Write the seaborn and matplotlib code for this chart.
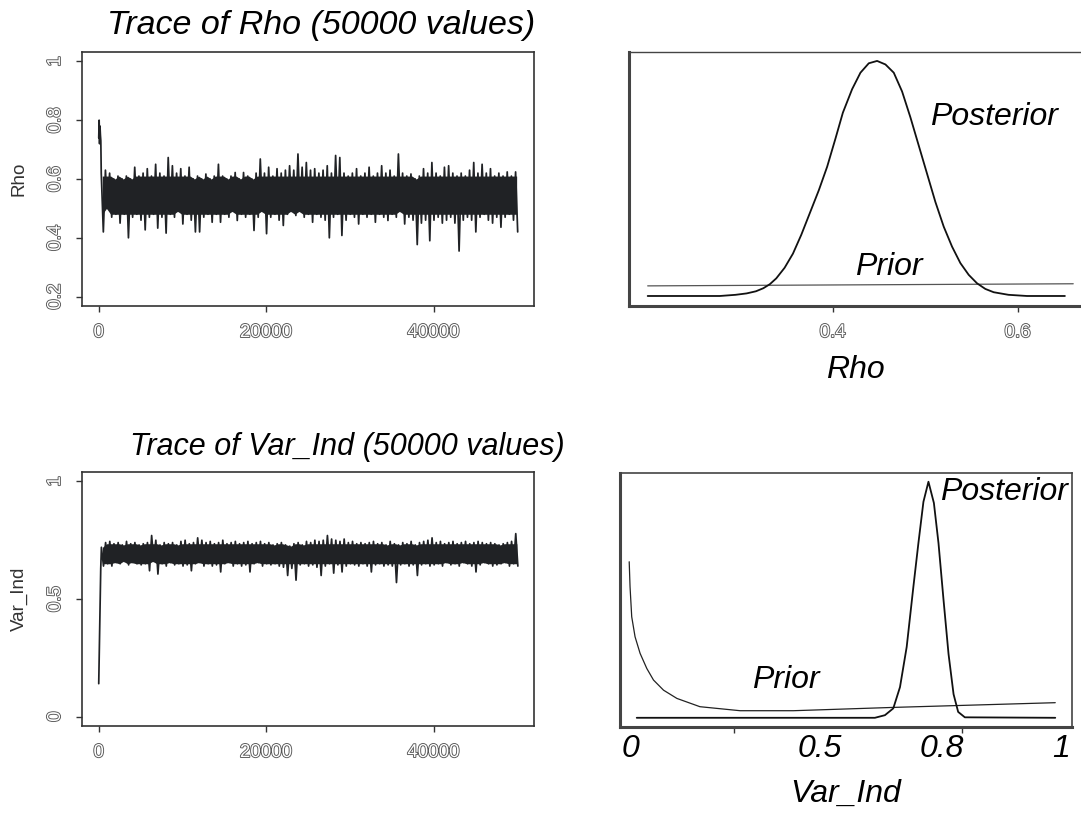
import numpy as np
import matplotlib
matplotlib.use("Agg")
import matplotlib.pyplot as plt
import matplotlib.patheffects as pe
import seaborn as sns

# ---- trace of Rho: burn-in values, then upper / lower swings per 500 iterations
rho_burn = [0.74, 0.80, 0.72, 0.78, 0.75, 0.73]
rho_hi = [0.62, 0.63, 0.62, 0.60, 0.61, 0.60, 0.61, 0.60, 0.64, 0.61,
          0.62, 0.635, 0.61, 0.65, 0.62, 0.61, 0.673, 0.645, 0.62, 0.635,
          0.61, 0.64, 0.60, 0.61, 0.60, 0.617, 0.60, 0.61, 0.65, 0.61,
          0.60, 0.61, 0.622, 0.60, 0.622, 0.61, 0.60, 0.62, 0.668, 0.62,
          0.64, 0.61, 0.635, 0.62, 0.63, 0.645, 0.63, 0.685, 0.64, 0.656,
          0.63, 0.635, 0.62, 0.63, 0.645, 0.62, 0.68, 0.673, 0.62, 0.61,
          0.62, 0.635, 0.61, 0.62, 0.64, 0.61, 0.62, 0.645, 0.62, 0.63,
          0.61, 0.685, 0.62, 0.61, 0.617, 0.60, 0.61, 0.635, 0.62, 0.656,
          0.62, 0.61, 0.64, 0.645, 0.62, 0.61, 0.62, 0.61, 0.63, 0.656,
          0.62, 0.65, 0.62, 0.635, 0.61, 0.62, 0.61, 0.624, 0.61, 0.624]
rho_lo = [0.42, 0.50, 0.47, 0.48, 0.45, 0.48, 0.40, 0.47, 0.48, 0.46,
          0.427, 0.47, 0.48, 0.433, 0.47, 0.416, 0.48, 0.47, 0.49, 0.447,
          0.48, 0.46, 0.42, 0.42, 0.47, 0.48, 0.453, 0.48, 0.453, 0.48,
          0.47, 0.49, 0.459, 0.48, 0.47, 0.48, 0.425, 0.47, 0.49, 0.414,
          0.47, 0.48, 0.46, 0.442, 0.48, 0.49, 0.476, 0.49, 0.47, 0.48,
          0.453, 0.48, 0.47, 0.46, 0.40, 0.47, 0.48, 0.408, 0.46, 0.48,
          0.47, 0.447, 0.48, 0.47, 0.48, 0.453, 0.48, 0.47, 0.459, 0.48,
          0.47, 0.49, 0.447, 0.47, 0.46, 0.377, 0.45, 0.46, 0.39, 0.46,
          0.47, 0.45, 0.46, 0.47, 0.45, 0.355, 0.46, 0.47, 0.46, 0.42,
          0.47, 0.48, 0.46, 0.45, 0.47, 0.436, 0.47, 0.48, 0.46, 0.42]

# ---- trace of Var_Ind
var_burn = [0.14, 0.30, 0.46, 0.63]
var_hi = [0.72, 0.74, 0.745, 0.735, 0.74, 0.73, 0.745, 0.735, 0.74, 0.73,
          0.735, 0.74, 0.77, 0.75, 0.73, 0.74, 0.735, 0.74, 0.73, 0.745,
          0.75, 0.735, 0.74, 0.76, 0.75, 0.74, 0.745, 0.735, 0.74, 0.75,
          0.735, 0.74, 0.745, 0.735, 0.74, 0.745, 0.735, 0.74, 0.745, 0.735,
          0.74, 0.73, 0.735, 0.74, 0.73, 0.725, 0.735, 0.74, 0.73, 0.745,
          0.74, 0.75, 0.745, 0.75, 0.77, 0.755, 0.75, 0.745, 0.755, 0.74,
          0.745, 0.735, 0.74, 0.735, 0.74, 0.745, 0.735, 0.74, 0.73, 0.745,
          0.735, 0.73, 0.74, 0.735, 0.745, 0.73, 0.74, 0.745, 0.75, 0.76,
          0.74, 0.745, 0.735, 0.74, 0.745, 0.735, 0.74, 0.745, 0.735, 0.74,
          0.745, 0.74, 0.735, 0.74, 0.735, 0.73, 0.735, 0.74, 0.745, 0.778]
var_lo = [0.64, 0.65, 0.64, 0.655, 0.65, 0.66, 0.645, 0.655, 0.65, 0.645,
          0.65, 0.62, 0.66, 0.606, 0.65, 0.64, 0.655, 0.645, 0.65, 0.64,
          0.645, 0.62, 0.65, 0.655, 0.64, 0.65, 0.64, 0.645, 0.615, 0.65,
          0.655, 0.64, 0.65, 0.64, 0.645, 0.615, 0.65, 0.655, 0.64, 0.65,
          0.645, 0.65, 0.64, 0.635, 0.60, 0.63, 0.58, 0.645, 0.65, 0.64,
          0.645, 0.635, 0.60, 0.64, 0.65, 0.61, 0.645, 0.615, 0.64, 0.65,
          0.645, 0.64, 0.65, 0.64, 0.615, 0.645, 0.65, 0.64, 0.645, 0.64,
          0.57, 0.645, 0.65, 0.64, 0.645, 0.60, 0.645, 0.65, 0.64, 0.645,
          0.65, 0.64, 0.655, 0.645, 0.65, 0.64, 0.655, 0.65, 0.64, 0.615,
          0.645, 0.655, 0.65, 0.64, 0.645, 0.65, 0.655, 0.64, 0.65, 0.64]

# ---- Rho densities (heights scaled so the posterior peak is 1)
rho_x = [0.20, 0.278, 0.295, 0.307, 0.317, 0.325, 0.332, 0.339, 0.348, 0.357,
         0.366, 0.375, 0.385, 0.394, 0.403, 0.411, 0.421, 0.430, 0.439, 0.448,
         0.457, 0.466, 0.475, 0.484, 0.493, 0.502, 0.511, 0.520, 0.529, 0.538,
         0.547, 0.556, 0.565, 0.574, 0.590, 0.610, 0.651]
rho_post = [0.0, 0.0, 0.005, 0.011, 0.02, 0.033, 0.05, 0.075, 0.12, 0.18,
            0.26, 0.35, 0.45, 0.55, 0.67, 0.78, 0.88, 0.95, 0.99, 1.0,
            0.985, 0.95, 0.87, 0.76, 0.64, 0.52, 0.40, 0.295, 0.21, 0.14,
            0.09, 0.054, 0.03, 0.016, 0.005, 0.0, 0.0]
rho_prior_x = [0.20, 0.66]
rho_prior = [0.043, 0.052]

# ---- Var_Ind densities
var_x = [0.0, 0.569, 0.593, 0.613, 0.629, 0.645, 0.661, 0.673, 0.685, 0.697,
         0.710, 0.721, 0.733, 0.745, 0.757, 0.768, 0.784, 1.0]
var_post = [0.0, 0.0, 0.011, 0.04, 0.13, 0.30, 0.555, 0.74, 0.915, 1.0,
            0.91, 0.74, 0.50, 0.27, 0.10, 0.025, 0.002, 0.0]
var_prior_x = [-0.018, -0.016, -0.012, -0.004, 0.008, 0.024, 0.040, 0.064,
               0.096, 0.151, 0.247, 0.374, 0.613, 1.0]
var_prior = [0.661, 0.555, 0.428, 0.343, 0.273, 0.209, 0.160, 0.117,
             0.082, 0.047, 0.030, 0.030, 0.044, 0.064]
var_tick_text = ["0", "0.5", "0.8", "1"]
var_tick_at = [-0.016, 0.438, 0.730, 1.015]


def trace_xy(burn, hi, lo, burn_step, step):
    zig = np.ravel(np.column_stack([hi, lo]))
    xb = np.arange(len(burn)) * burn_step
    xz = xb[-1] + burn_step + np.arange(len(zig)) * step
    return np.concatenate([xb, xz]), np.concatenate([burn, zig]), xz


W, H = 1081, 814
sns.set_style("white")
plt.rcParams['font.family'] = ['Liberation Sans', 'DejaVu Sans']
fig = plt.figure(figsize=(W / 100, H / 100), dpi=100)


def box(l, t, r, b):
    return fig.add_axes([l / W, 1 - b / H, (r - l) / W, (b - t) / H])


outline = [pe.Stroke(linewidth=1.3, foreground='#555555'), pe.Normal()]
big = dict(fontsize=23, fontstyle='italic', color='black')
trace_col = '#202225'


def draw_trace(ax, burn, hi, lo, burn_step):
    x, y, xz = trace_xy(burn, hi, lo, burn_step, 250)
    hi, lo = np.asarray(hi), np.asarray(lo)
    # dense core of the chain: the band that most swings cover
    core_hi = np.minimum(hi, np.percentile(hi, 15))
    core_lo = np.maximum(lo, np.percentile(lo, 85))
    ax.fill_between(xz[0::2] + 125, core_lo, core_hi, color=trace_col,
                    linewidth=0)
    sns.lineplot(x=x, y=y, ax=ax, color=trace_col, linewidth=1.25,
                 estimator=None, sort=False)


def style_trace(ax, yticks, ylabels, ylab):
    ax.set_xlim(-1999, 51999)
    ax.set_xticks([0, 20000, 40000])
    ax.set_xticklabels(["0", "20000", "40000"])
    ax.set_yticks(yticks)
    ax.set_yticklabels(ylabels, rotation=90, va='center')
    ax.tick_params(direction='out', length=4, width=1, color='#333333',
                   labelsize=13.5, labelcolor='white', pad=9,
                   bottom=True, left=True)
    for lbl in ax.get_xticklabels() + ax.get_yticklabels():
        lbl.set_path_effects(outline)
    for s in ax.spines.values():
        s.set_color('#333333')
        s.set_linewidth(1.2)
    ax.set_xlabel("")
    ax.set_ylabel(ylab, fontsize=13.5, color='#333333', labelpad=14)


# Trace of Rho
ax1 = box(82, 52, 534, 306)
draw_trace(ax1, rho_burn, rho_hi, rho_lo, 50)
ax1.set_ylim(0.168, 1.032)
style_trace(ax1, [0.2, 0.4, 0.6, 0.8, 1.0], ["0.2", "0.4", "0.6", "0.8", "1"], "Rho")
fig.text(321 / W, 1 - 34 / H, "Trace of Rho (50000 values)", ha='center',
         va='baseline', fontsize=24.5, fontstyle='italic', color='black')

# Trace of Var_Ind
ax3 = box(82, 472, 534, 726)
draw_trace(ax3, var_burn, var_hi, var_lo, 80)
ax3.set_ylim(-0.04, 1.04)
style_trace(ax3, [0, 0.5, 1.0], ["0", "0.5", "1"], "Var_Ind")
fig.text(347 / W, 1 - 455 / H, "Trace of Var_Ind (50000 values)", ha='center',
         va='baseline', fontsize=22, fontstyle='italic', color='black')

# Rho density
ax2 = box(629, 52, 1081, 306)
sns.lineplot(x=rho_prior_x, y=rho_prior, ax=ax2, color='#555555', linewidth=0.9,
             estimator=None, sort=False)
sns.lineplot(x=rho_x, y=rho_post, ax=ax2, color='#111111', linewidth=1.3,
             estimator=None, sort=False)
ax2.set_xlim(0.1798, 0.6684)
ax2.set_ylim(-0.0426, 1.038)
ax2.set_xticks([0.4, 0.6])
ax2.set_xticklabels(["0.4", "0.6"])
ax2.set_yticks([])
ax2.tick_params(axis='x', direction='out', length=4, width=1, color='#333333',
                labelsize=13.5, labelcolor='white', pad=9, bottom=True)
for lbl in ax2.get_xticklabels():
    lbl.set_path_effects(outline)
ax2.spines['right'].set_visible(False)
ax2.spines['top'].set_linewidth(1.0)
ax2.spines['top'].set_color('#444444')
for side in ['left', 'bottom']:
    ax2.spines[side].set_linewidth(2.2)
    ax2.spines[side].set_color('#444444')
ax2.set_ylabel("")
ax2.set_xlabel("Rho", labelpad=10, **big)
ax2.text(0.505, 0.744, "Posterior", transform=ax2.get_xaxis_transform(),
         ha='left', va='center', **big)
ax2.text(0.424, 0.154, "Prior", transform=ax2.get_xaxis_transform(),
         ha='left', va='center', **big)

# Var_Ind density
ax4 = box(620, 473, 1072, 727)
sns.lineplot(x=var_prior_x, y=var_prior, ax=ax4, color='#222222', linewidth=0.9,
             estimator=None, sort=False)
sns.lineplot(x=var_x, y=var_post, ax=ax4, color='#111111', linewidth=1.3,
             estimator=None, sort=False)
ax4.set_xlim(-0.04, 1.04)
ax4.set_ylim(-0.039, 1.037)
ax4.set_xticks([0.2325, 0.777])
ax4.set_xticklabels(["", ""])
ax4.set_yticks([])
ax4.tick_params(axis='x', direction='out', length=4, width=1, color='#333333',
                bottom=True)
for s in ax4.spines.values():
    s.set_color('#444444')
    s.set_linewidth(1.2)
for side in ['left', 'bottom']:
    ax4.spines[side].set_linewidth(2.2)
for t, xv in zip(var_tick_text, var_tick_at):
    ax4.text(xv, -0.085, t, transform=ax4.get_xaxis_transform(),
             ha='center', va='center', **big)
ax4.set_ylabel("")
ax4.set_xlabel("Var_Ind", labelpad=30, **big)
ax4.text(0.725, 0.925, "Posterior", transform=ax4.get_xaxis_transform(),
         ha='left', va='center', **big)
ax4.text(0.275, 0.185, "Prior", transform=ax4.get_xaxis_transform(),
         ha='left', va='center', **big)

fig.savefig("out.png", dpi=100)
